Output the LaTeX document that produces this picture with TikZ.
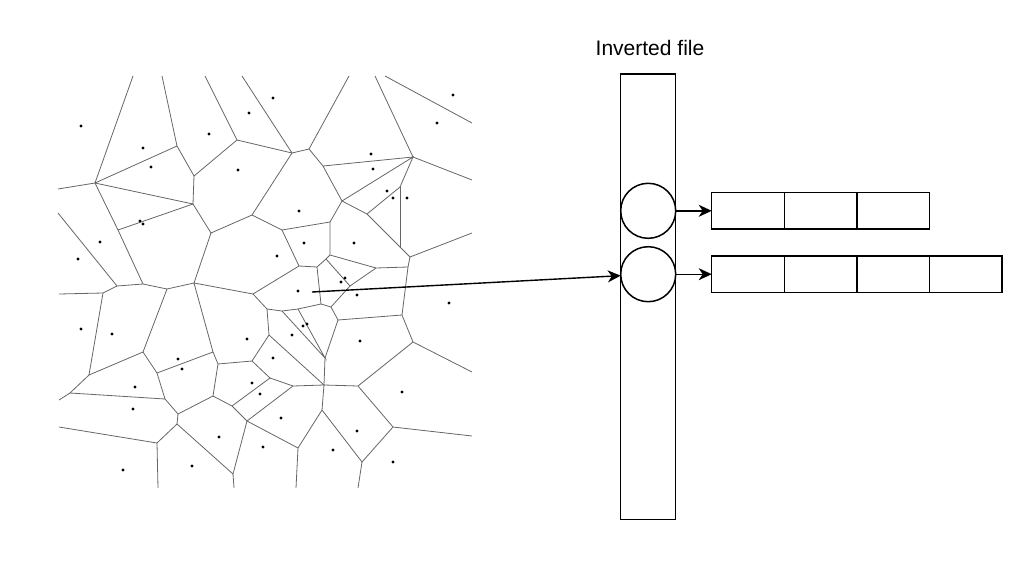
\documentclass[tikz,border=0pt]{standalone}
\usepackage{fontspec}
\newfontfamily\labelfont{Liberation Sans}
\usetikzlibrary{positioning,arrows.meta}

\begin{document}
\begin{tikzpicture}[x=1pt,y=-1pt,
  cell/.style={draw=black!60,line width=0.8pt},
  site/.style={fill=black},
  slot/.style={draw,circle,line width=1.5pt,minimum size=55pt,inner sep=0pt,outer sep=0pt},
  box/.style={draw,line width=1.5pt,minimum width=72.6pt,minimum height=36.7pt,inner sep=0pt,outer sep=0pt},
  link/.style={-{Stealth[length=13pt,width=12pt,inset=4pt]},line width=1.4pt}]
\useasboundingbox (0,0) rectangle (1026,560);

% Voronoi vertices
\coordinate (A) at (95,183);   \coordinate (B) at (177,146);  \coordinate (C) at (194,176);
\coordinate (D) at (237,140);  \coordinate (E) at (193,204);  \coordinate (F) at (118,230);
\coordinate (G) at (211,233);  \coordinate (H) at (252,215);  \coordinate (I) at (292,153);
\coordinate (J) at (309,149);  \coordinate (K) at (323,166);  \coordinate (L) at (413,157);
\coordinate (M) at (342,201);  \coordinate (O) at (367,214);  \coordinate (N) at (400,187);
\coordinate (N2) at (400,247); \coordinate (P) at (410,257);  \coordinate (P2) at (408,267);
\coordinate (Q) at (282,230);  \coordinate (R) at (330,222);  \coordinate (S) at (330,255);
\coordinate (S1) at (326,259); \coordinate (T) at (376,268);  \coordinate (U) at (299,266);
\coordinate (V) at (317,267);  \coordinate (W) at (117,286);  \coordinate (W2) at (103,293);
\coordinate (X) at (143,284);  \coordinate (Y) at (167,289);  \coordinate (Z) at (194,283);
\coordinate (AA) at (143,352); \coordinate (BB) at (213,352); \coordinate (CC) at (253,294);
\coordinate (DD) at (89,375);  \coordinate (EE) at (70,393);  \coordinate (FF) at (165,399);
\coordinate (GG) at (157,373); \coordinate (HH) at (178,414); \coordinate (II) at (218,364);
\coordinate (JJ) at (213,396); \coordinate (KK) at (252,361); \coordinate (LL) at (232,406);
\coordinate (MM) at (247,421); \coordinate (NN) at (177,424); \coordinate (OO) at (157,443);
\coordinate (PP) at (233,474); \coordinate (RR) at (267,309); \coordinate (YY) at (269,335);
\coordinate (K2) at (270,378); \coordinate (K3) at (293,386); \coordinate (F1) at (282,311);
\coordinate (F2) at (298,309); \coordinate (SS) at (321,304); \coordinate (TT) at (331,307);
\coordinate (UU) at (338,320); \coordinate (X1) at (350,286); \coordinate (VV) at (402,315);
\coordinate (WW) at (413,342); \coordinate (C3) at (325,358); \coordinate (C0) at (324,385);
\coordinate (D0) at (322,410); \coordinate (E3) at (298,448); \coordinate (E0) at (362,462);
\coordinate (F0) at (393,427); \coordinate (G0) at (358,386);

% open ends
\coordinate (Aup) at (133,76);  \coordinate (Bup) at (162,76);  \coordinate (Dup) at (205,76);
\coordinate (Iup) at (242,76);  \coordinate (Jup) at (349,76);  \coordinate (Lup) at (375,76);
\coordinate (t1) at (385,76);   \coordinate (t2) at (472,123);
\coordinate (Aleft) at (58,189); \coordinate (Wleft) at (58,213); \coordinate (W2left) at (59,294);
\coordinate (EEleft) at (59,400); \coordinate (OOleft) at (59,427);
\coordinate (Lright) at (472,180); \coordinate (Pright) at (472,233);
\coordinate (WWright) at (472,372); \coordinate (F0right) at (472,436);
\coordinate (OObot) at (158,488); \coordinate (PPbot) at (234,488);
\coordinate (E3bot) at (296,488); \coordinate (E0bot) at (358,488);

% Cell edges
\draw[cell] (Aup) -- (A) -- (Aleft);
\draw[cell] (A) -- (B) -- (Bup);
\draw[cell] (B) -- (C) -- (D) -- (Dup);
\draw[cell] (C) -- (E) -- (A) -- (F) -- (X);
\draw[cell] (F) -- (E) -- (G) -- (H) -- (I) -- (Iup);
\draw[cell] (D) -- (I) -- (J) -- (Jup);
\draw[cell] (J) -- (K) -- (L) -- (Lup);
\draw[cell] (L) -- (Lright);
\draw[cell] (t1) -- (t2);
\draw[cell] (K) -- (M) -- (L) -- (N) -- (O) -- (M);
\draw[cell] (N) -- (N2);
\draw[cell] (O) -- (P) -- (Pright);
\draw[cell] (P) -- (P2) -- (VV);
\draw[cell] (M) -- (R) -- (Q) -- (H);
\draw[cell] (Q) -- (U) -- (V) -- (S1) -- (S) -- (R);
\draw[cell] (S) -- (T) -- (P2);
\draw[cell] (S1) -- (X1) -- (T);
\draw[cell] (X1) -- (TT);
\draw[cell] (U) -- (CC) -- (Z) -- (G);
\draw[cell] (Z) -- (Y) -- (X) -- (W) -- (Wleft);
\draw[cell] (W) -- (W2) -- (W2left);
\draw[cell] (W2) -- (DD) -- (AA) -- (Y);
\draw[cell] (DD) -- (EE) -- (EEleft);
\draw[cell] (EE) -- (FF) -- (GG) -- (AA);
\draw[cell] (GG) -- (BB) -- (Z);
\draw[cell] (FF) -- (HH) -- (JJ) -- (II) -- (BB);
\draw[cell] (II) -- (KK) -- (YY) -- (RR) -- (CC);
\draw[cell] (JJ) -- (LL) -- (MM) -- (PP) -- (NN) -- (HH);
\draw[cell] (NN) -- (OO) -- (OOleft);
\draw[cell] (OO) -- (OObot);
\draw[cell] (PP) -- (PPbot);
\draw[cell] (LL) -- (K2) -- (KK);
\draw[cell] (K2) -- (K3) -- (C0) -- (YY);
\draw[cell] (K3) -- (MM) -- (E3) -- (E3bot);
\draw[cell] (RR) -- (F1) -- (F2) -- (SS) -- (V);
\draw[cell] (SS) -- (TT) -- (UU) -- (VV) -- (WW) -- (WWright);
\draw[cell] (F1) -- (C3) -- (F2);
\draw[cell] (UU) -- (C3) -- (C0);
\draw[cell] (WW) -- (G0) -- (C0) -- (D0) -- (E3);
\draw[cell] (G0) -- (F0) -- (F0right);
\draw[cell] (D0) -- (E0) -- (F0);
\draw[cell] (E0) -- (E0bot);

% Sites
\fill[site] (81,126) circle (1.6pt);  \fill[site] (143,148) circle (1.6pt); \fill[site] (151,167) circle (1.6pt);
\fill[site] (140,221) circle (1.6pt); \fill[site] (143,224) circle (1.6pt); \fill[site] (100,242) circle (1.6pt);
\fill[site] (78,259) circle (1.6pt);  \fill[site] (209,134) circle (1.6pt); \fill[site] (249,113) circle (1.6pt);
\fill[site] (238,170) circle (1.6pt); \fill[site] (273,98) circle (1.6pt);  \fill[site] (453,95) circle (1.6pt);
\fill[site] (437,123) circle (1.6pt); \fill[site] (371,154) circle (1.6pt); \fill[site] (373,169) circle (1.6pt);
\fill[site] (387,191) circle (1.6pt); \fill[site] (393,198) circle (1.6pt); \fill[site] (407,198) circle (1.6pt);
\fill[site] (299,211) circle (1.6pt); \fill[site] (304,243) circle (1.6pt); \fill[site] (354,243) circle (1.6pt);
\fill[site] (277,256) circle (1.6pt); \fill[site] (345,278) circle (1.6pt); \fill[site] (341,282) circle (1.6pt);
\fill[site] (298,291) circle (1.6pt); \fill[site] (357,295) circle (1.6pt); \fill[site] (449,303) circle (1.6pt);
\fill[site] (292,335) circle (1.6pt); \fill[site] (303,326) circle (1.6pt); \fill[site] (307,324) circle (1.6pt);
\fill[site] (247,339) circle (1.6pt); \fill[site] (273,358) circle (1.6pt); \fill[site] (360,341) circle (1.6pt);
\fill[site] (81,329) circle (1.6pt);  \fill[site] (112,334) circle (1.6pt); \fill[site] (178,359) circle (1.6pt);
\fill[site] (182,369) circle (1.6pt); \fill[site] (135,387) circle (1.6pt); \fill[site] (133,409) circle (1.6pt);
\fill[site] (252,383) circle (1.6pt); \fill[site] (260,394) circle (1.6pt); \fill[site] (219,437) circle (1.6pt);
\fill[site] (263,447) circle (1.6pt); \fill[site] (123,470) circle (1.6pt); \fill[site] (192,466) circle (1.6pt);
\fill[site] (357,431) circle (1.6pt); \fill[site] (333,450) circle (1.6pt); \fill[site] (281,418) circle (1.6pt);
\fill[site] (393,462) circle (1.6pt); \fill[site] (402,392) circle (1.6pt);

% Inverted file
\node[font=\labelfont\fontsize{21}{25}\selectfont, anchor=base] (title) at (650,55) {Inverted file};
\node[draw,line width=1.5pt,minimum width=55pt,minimum height=445.3pt,inner sep=0pt,outer sep=0pt] (ivf) at (648.2,296.7) {};
\node[slot] (c1) at (648.2,210.8) {};
\node[slot] (c2) at (648.2,274.2) {};

% Posting lists
\node[box] (b11) at (748,210.8) {};
\node[box, right=0pt of b11] (b12) {};
\node[box, right=0pt of b12] (b13) {};
\node[box] (b21) at (748,274.2) {};
\node[box, right=0pt of b21] (b22) {};
\node[box, right=0pt of b22] (b23) {};
\node[box, right=0pt of b23] (b24) {};

% Arrows
\coordinate (q) at (312,292);
\draw[link] (q) -- (c2);
\draw[link] (c1) -- (b11);
\draw[link] (c2) -- (b21);

\end{tikzpicture}
\end{document}
